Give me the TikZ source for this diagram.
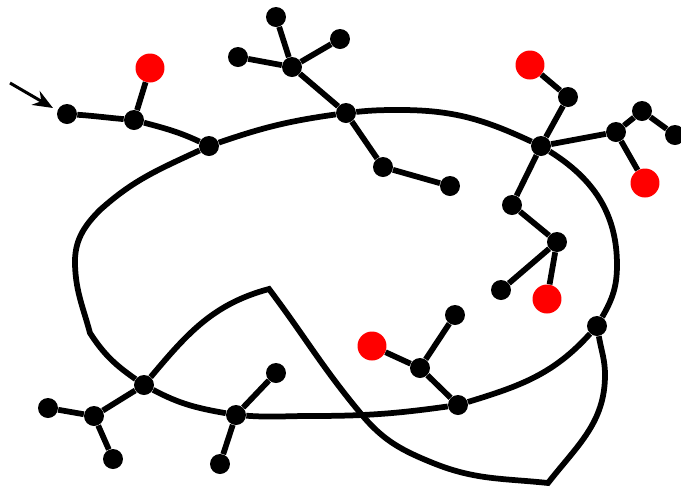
\documentclass[tikz,border=0pt]{standalone}
\usepackage{tikz}
\usetikzlibrary{arrows.meta}
\tikzset{
    dot/.style={circle,fill=black,inner sep=0pt,minimum size=0.4cm},
    reddot/.style={circle,fill=red,inner sep=0pt,minimum size=0.58cm},
    branch/.style={line width=0.115cm,black},
}

\begin{document}
\begin{tikzpicture}[x=0.02cm,y=-0.02cm]
    \useasboundingbox (0,0) rectangle (681,488);
    % left tree
    \coordinate (s) at (10,83);
    \coordinate (t) at (53,108);
    \node[dot] (1) at (67,114) {};
    \node[dot] (2) at (134,120) {};
    \node[reddot] (3) at (150,68) {};
    \node[dot] (4) at (209,146) {};
    % top tree
    \node[dot] (5) at (346,113) {};
    \node[dot] (6) at (292,67) {};
    \node[dot] (7) at (276,17) {};
    \node[dot] (8) at (340,39) {};
    \node[dot] (9) at (238,57) {};
    \node[dot] (10) at (383,167) {};
    \node[dot] (11) at (450,186) {};
    % right tree
    \node[dot] (12) at (541,146) {};
    \node[dot] (13) at (568,97) {};
    \node[reddot] (14) at (530,65) {};
    \node[dot] (15) at (616,132) {};
    \node[dot] (16) at (642,111) {};
    \node[dot] (17) at (675,135) {};
    \node[reddot] (18) at (645,183) {};
    \node[dot] (19) at (512,205) {};
    \node[dot] (20) at (557,242) {};
    \node[dot] (21) at (501,290) {};
    \node[reddot] (22) at (547,299) {};
    % bottom trees
    \node[dot] (23) at (597,326) {};
    \node[dot] (24) at (458,405) {};
    \node[dot] (25) at (420,368) {};
    \node[dot] (26) at (455,315) {};
    \node[reddot] (27) at (372,346) {};
    \node[dot] (28) at (236,415) {};
    \node[dot] (29) at (276,373) {};
    \node[dot] (30) at (220,464) {};
    \node[dot] (31) at (144,385) {};
    \node[dot] (32) at (94,416) {};
    \node[dot] (33) at (48,408) {};
    \node[dot] (34) at (113,459) {};
    % corners
    \coordinate (k1) at (90,333);
    \coordinate (k2) at (269,289);
    \coordinate (k3) at (548,483);

    \draw[-{Stealth[length=0.4cm,width=0.32cm]},line width=0.06cm] (s) -- (t);

    \path[branch,every edge/.style={draw,line width=0.115cm}]
    (1) edge[out=-4,in=175] (2)
    (2) edge (3)
    (2) edge[out=-15,in=155] (4)
    (5) edge (6)
    (6) edge (7)
    (6) edge (8)
    (6) edge (9)
    (5) edge (10)
    (10) edge (11)
    (12) edge (13)
    (13) edge (14)
    (12) edge (15)
    (15) edge (16)
    (16) edge (17)
    (15) edge (18)
    (12) edge (19)
    (19) edge (20)
    (20) edge (21)
    (20) edge (22)
    (24) edge (25)
    (25) edge (26)
    (25) edge (27)
    (28) edge (29)
    (28) edge (30)
    (31) edge (32)
    (32) edge (33)
    (32) edge (34);

    % closed loop
    \draw[branch] (4) to[out=19,in=188] (5)
        to[out=6,in=180] (400,110)
        to[out=0,in=155] (12)
        to[out=-32,in=90] (617,265)
        to[out=-90,in=60] (23)
        to[out=-132,in=17] (24)
        to[out=-172,in=0] (310,416)
        to[out=180,in=-4] (28)
        to[out=170,in=-28] (31)
        to[out=145,in=-57] (k1)
        to[out=105,in=-88] (75,265)
        to[out=92,in=-135] (100,210)
        to[out=42,in=205] (4);
    \draw[branch] (31) to[out=50,in=-165] (k2)
        to[out=-53,in=130] (362,415)
        to[out=-50,in=158] (433,463)
        to[out=-22,in=174] (k3)
        to[out=52,in=-90] (605,375)
        to[out=90,in=-80] (23);
\end{tikzpicture}
\end{document}
